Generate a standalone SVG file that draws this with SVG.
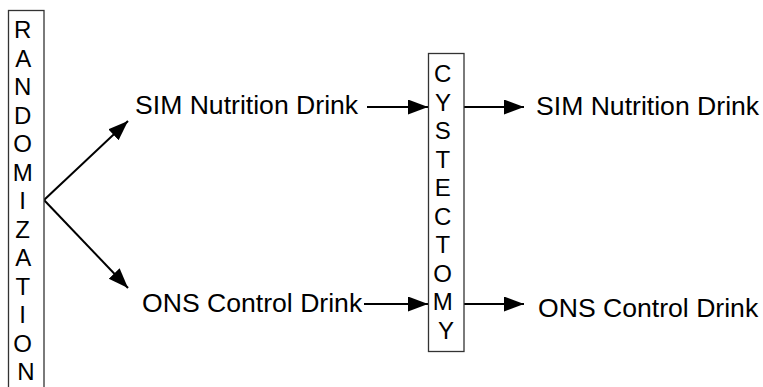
<svg xmlns="http://www.w3.org/2000/svg" width="763" height="387" viewBox="0 0 763 387">
  <defs>
    <marker id="arrow" markerUnits="userSpaceOnUse" markerWidth="22" markerHeight="16" refX="20" refY="7.5" orient="auto">
      <path d="M0,0 L20,7.5 L0,15 Z" fill="#000"/>
    </marker>
    <style>
      .box { fill: #fff; stroke: #333; stroke-width: 1.3; }
      .lbl { font-family: "Liberation Sans", Arial, sans-serif; font-size: 26.6px; fill: #000; }
      .vlbl { font-family: "Liberation Sans", Arial, sans-serif; font-size: 24px; fill: #000; text-anchor: middle; }
      .edge { stroke: #000; stroke-width: 2; fill: none; marker-end: url(#arrow); }
    </style>
  </defs>
  <rect width="763" height="387" fill="#fff"/>

  <!-- connectors -->
  <g id="connectors">
    <line class="edge" x1="44" y1="200" x2="128" y2="121"/>
    <line class="edge" x1="44" y1="200" x2="128" y2="288"/>
    <line class="edge" x1="367" y1="107" x2="428" y2="107"/>
    <line class="edge" x1="364" y1="304" x2="428" y2="304"/>
    <line class="edge" x1="464" y1="107" x2="524" y2="107"/>
    <line class="edge" x1="464" y1="304" x2="524" y2="304"/>
  </g>

  <!-- vertical box: randomization -->
  <g id="randomization">
    <rect class="box" x="8.5" y="10.5" width="35.5" height="390"/>
    <text class="vlbl">
      <tspan x="26" y="38">R</tspan>
      <tspan x="26" dy="28.5">A</tspan>
      <tspan x="26" dy="28.5">N</tspan>
      <tspan x="26" dy="28.5">D</tspan>
      <tspan x="26" dy="28.5">O</tspan>
      <tspan x="26" dy="28.5">M</tspan>
      <tspan x="26" dy="28.5">I</tspan>
      <tspan x="26" dy="28.5">Z</tspan>
      <tspan x="26" dy="28.5">A</tspan>
      <tspan x="26" dy="28.5">T</tspan>
      <tspan x="26" dy="28.5">I</tspan>
      <tspan x="26" dy="28.5">O</tspan>
      <tspan x="26" dy="28.5">N</tspan>
    </text>
  </g>

  <g id="sim-pre">
    <text class="lbl" x="135" y="114">SIM Nutrition Drink</text>
  </g>
  <g id="ons-pre">
    <text class="lbl" x="142" y="312">ONS Control Drink</text>
  </g>

  <!-- vertical box: cystectomy -->
  <g id="cystectomy">
    <rect class="box" x="428.5" y="53.5" width="35.5" height="298"/>
    <text class="vlbl">
      <tspan x="446" y="82">C</tspan>
      <tspan x="446" dy="28.5">Y</tspan>
      <tspan x="446" dy="28.5">S</tspan>
      <tspan x="446" dy="28.5">T</tspan>
      <tspan x="446" dy="28.5">E</tspan>
      <tspan x="446" dy="28.5">C</tspan>
      <tspan x="446" dy="28.5">T</tspan>
      <tspan x="446" dy="28.5">O</tspan>
      <tspan x="446" dy="28.5">M</tspan>
      <tspan x="446" dy="28.5">Y</tspan>
    </text>
  </g>

  <g id="sim-post">
    <text class="lbl" x="536" y="115">SIM Nutrition Drink</text>
  </g>
  <g id="ons-post">
    <text class="lbl" x="538" y="317">ONS Control Drink</text>
  </g>
</svg>
